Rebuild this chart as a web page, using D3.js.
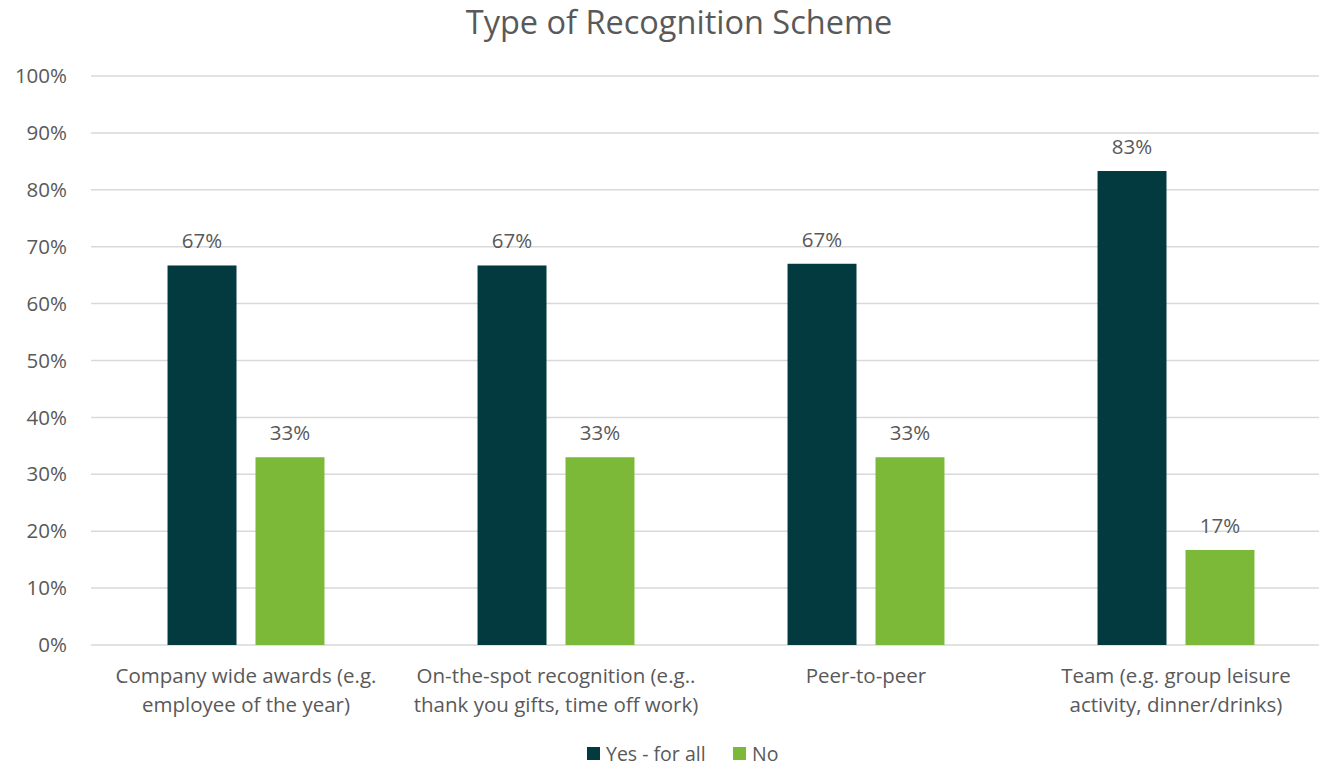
<!DOCTYPE html>
<html>
<head>
<meta charset="utf-8">
<script src="https://cdn.jsdelivr.net/npm/d3@7"></script>
<style>
    body { margin: 0; background: #fff; }
    svg text { font-family: "Open Sans", sans-serif; fill: #595959; }
</style>
</head>
<body>
<svg id="chart" width="1319" height="768"></svg>
<script>
// chart data
const categories = [
    ["Company wide awards (e.g.", "employee of the year)"],
    ["On-the-spot recognition (e.g..", "thank you gifts, time off work)"],
    ["Peer-to-peer"],
    ["Team (e.g. group leisure", "activity, dinner/drinks)"]
];
const seriesNames = ["Yes - for all", "No"];
const yesValues = [0.667, 0.667, 0.67, 0.833];
const noValues = [0.33, 0.33, 0.33, 0.167];
const yTicks = [0, 0.1, 0.2, 0.3, 0.4, 0.5, 0.6, 0.7, 0.8, 0.9, 1.0];
const colors = ["#023a40", "#7cb939"];

const svg = d3.select("#chart");
const margin = { left: 91, right: 1331, top: 76, bottom: 645 };

let x = d3.scaleBand()
    .domain(d3.range(categories.length))
    .range([margin.left, margin.right])
    .paddingInner(0)
    .paddingOuter(0);

let inner = d3.scaleBand()
    .domain([0, 1])
    .range([0, x.bandwidth()])
    .paddingInner(0.216)
    .paddingOuter(0.87);

let y = d3.scaleLinear().domain([0, 1]).range([margin.bottom, margin.top]);

// title
svg.append("text")
    .attr("x", 679)
    .attr("y", 34)
    .attr("text-anchor", "middle")
    .style("font-size", "32.5px")
    .text("Type of Recognition Scheme");

// gridlines + y labels
let yAxis = svg.append("g");
yAxis.selectAll("line")
    .data(yTicks)
    .enter().append("line")
    .attr("x1", margin.left)
    .attr("x2", margin.right)
    .attr("y1", d => y(d))
    .attr("y2", d => y(d))
    .attr("stroke", "#d9d9d9")
    .attr("stroke-width", 1.5);

yAxis.selectAll("text")
    .data(yTicks)
    .enter().append("text")
    .attr("x", 67)
    .attr("y", d => y(d))
    .attr("dy", "0.35em")
    .attr("text-anchor", "end")
    .style("font-size", "20.5px")
    .text(d => d3.format(".0%")(d));

// bars
let rows = categories.map((c, i) => ({ i: i, values: [yesValues[i], noValues[i]] }));

let groups = svg.selectAll(".cat")
    .data(rows)
    .enter().append("g")
    .attr("class", "cat")
    .attr("transform", d => "translate(" + x(d.i) + ",0)");

groups.selectAll("rect")
    .data(d => d.values.map((v, s) => ({ s: s, v: v })))
    .enter().append("rect")
    .attr("x", d => inner(d.s))
    .attr("width", inner.bandwidth())
    .attr("y", d => y(d.v))
    .attr("height", d => y(0) - y(d.v))
    .attr("fill", d => colors[d.s]);

// data labels
groups.selectAll(".lbl")
    .data(d => d.values.map((v, s) => ({ s: s, v: v })))
    .enter().append("text")
    .attr("class", "lbl")
    .attr("x", d => inner(d.s) + inner.bandwidth() / 2)
    .attr("y", d => y(d.v) - 17)
    .attr("text-anchor", "middle")
    .style("font-size", "20.5px")
    .text(d => Math.round(d.v * 100) + "%");

// category labels
let catLabels = svg.selectAll(".catlbl")
    .data(categories)
    .enter().append("text")
    .attr("class", "catlbl")
    .attr("x", (d, i) => x(i) + x.bandwidth() / 2)
    .attr("y", 683)
    .attr("text-anchor", "middle")
    .style("font-size", "20.5px");

catLabels.selectAll("tspan")
    .data(d => d)
    .enter().append("tspan")
    .attr("x", function () { return d3.select(this.parentNode).attr("x"); })
    .attr("dy", (d, i) => i === 0 ? 0 : 29)
    .text(d => d);

// legend
let legendX = [587, 733];
let legend = svg.selectAll(".legend")
    .data(seriesNames)
    .enter().append("g")
    .attr("class", "legend")
    .attr("transform", (d, i) => "translate(" + legendX[i] + ",747)");

legend.append("rect")
    .attr("width", 13)
    .attr("height", 13)
    .attr("fill", (d, i) => colors[i]);

legend.append("text")
    .attr("x", 19)
    .attr("y", 7)
    .attr("dy", "0.35em")
    .style("font-size", "19.5px")
    .text(d => d);
</script>
</body>
</html>
